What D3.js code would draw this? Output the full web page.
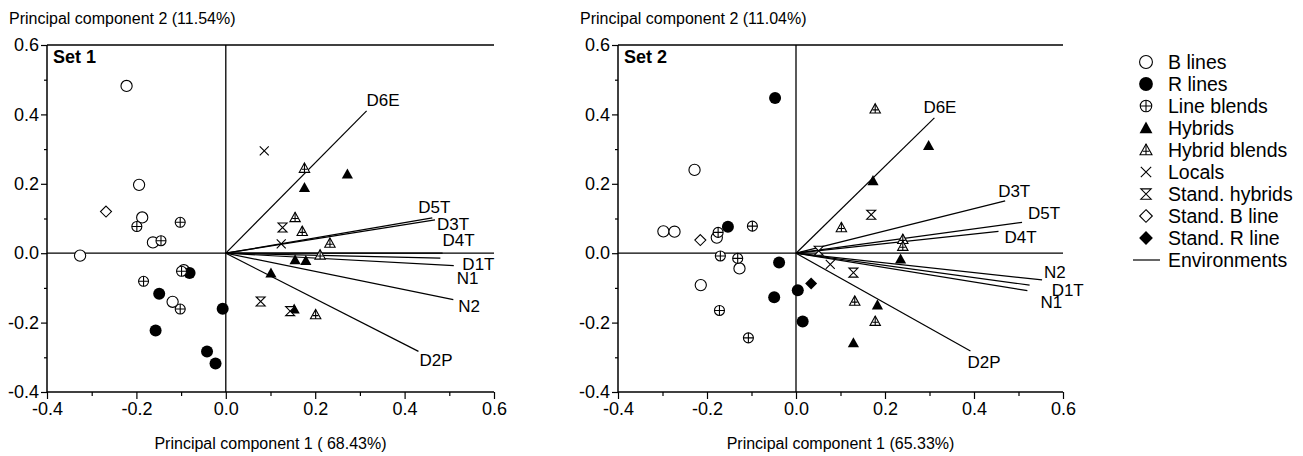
<!DOCTYPE html>
<html lang="en">
<head>
<meta charset="utf-8" />
<title>PCA biplots</title>
<script src="https://d3js.org/d3.v7.min.js"></script>
<style>
  body { margin: 0; background: #fff; }
  svg text { font-family: "Liberation Sans", Arial, sans-serif; fill: #000; }
</style>
</head>
<body>
<div id="chart"></div>
<script>
  var width = 1303, height = 456;

  // legend groups (order as in the legend)
  var groups = ["B lines", "R lines", "Line blends", "Hybrids", "Hybrid blends",
                "Locals", "Stand. hybrids", "Stand. B line", "Stand. R line"];
  var ticks = [-0.4, -0.2, 0.0, 0.2, 0.4, 0.6];

  // Set 1 : [pc1, pc2, group]
  var set1Points = [
    [-0.222, 0.482, "B lines"], [-0.194, 0.197, "B lines"], [-0.187, 0.103, "B lines"],
    [-0.163, 0.031, "B lines"], [-0.326, -0.007, "B lines"], [-0.094, -0.049, "B lines"],
    [-0.119, -0.140, "B lines"],
    [-0.081, -0.057, "R lines"], [-0.149, -0.117, "R lines"], [-0.007, -0.160, "R lines"],
    [-0.157, -0.223, "R lines"], [-0.042, -0.283, "R lines"], [-0.023, -0.318, "R lines"],
    [-0.199, 0.077, "Line blends"], [-0.102, 0.089, "Line blends"], [-0.145, 0.036, "Line blends"],
    [-0.184, -0.081, "Line blends"], [-0.102, -0.161, "Line blends"], [-0.099, -0.052, "Line blends"],
    [0.272, 0.228, "Hybrids"], [0.176, 0.189, "Hybrids"], [0.155, -0.019, "Hybrids"],
    [0.179, -0.021, "Hybrids"], [0.101, -0.057, "Hybrids"], [0.153, -0.161, "Hybrids"],
    [0.176, 0.245, "Hybrid blends"], [0.155, 0.103, "Hybrid blends"], [0.171, 0.063, "Hybrid blends"],
    [0.233, 0.029, "Hybrid blends"], [0.211, -0.005, "Hybrid blends"], [0.201, -0.177, "Hybrid blends"],
    [0.086, 0.295, "Locals"], [0.124, 0.027, "Locals"],
    [0.127, 0.074, "Stand. hybrids"], [0.078, -0.139, "Stand. hybrids"], [0.144, -0.167, "Stand. hybrids"],
    [-0.268, 0.120, "Stand. B line"]
  ];
  var set1Vectors = [
    ["D6E", 0.315, 0.410], ["D5T", 0.462, 0.102], ["D3T", 0.468, 0.096], ["D4T", 0.485, 0.000],
    ["D1T", 0.480, -0.014], ["N1", 0.510, -0.036], ["N2", 0.509, -0.134], ["D2P", 0.431, -0.283]
  ];

  // Set 2
  var set2Points = [
    [-0.228, 0.240, "B lines"], [-0.298, 0.063, "B lines"], [-0.273, 0.062, "B lines"],
    [-0.178, 0.045, "B lines"], [-0.127, -0.044, "B lines"], [-0.214, -0.092, "B lines"],
    [-0.047, 0.447, "R lines"], [-0.153, 0.076, "R lines"], [-0.038, -0.027, "R lines"],
    [-0.049, -0.127, "R lines"], [0.004, -0.107, "R lines"], [0.015, -0.197, "R lines"],
    [-0.098, 0.078, "Line blends"], [-0.175, 0.060, "Line blends"], [-0.170, -0.008, "Line blends"],
    [-0.131, -0.015, "Line blends"], [-0.172, -0.165, "Line blends"], [-0.107, -0.244, "Line blends"],
    [0.298, 0.310, "Hybrids"], [0.173, 0.209, "Hybrids"], [0.235, -0.017, "Hybrids"],
    [0.183, -0.149, "Hybrids"], [0.129, -0.258, "Hybrids"],
    [0.178, 0.416, "Hybrid blends"], [0.102, 0.074, "Hybrid blends"], [0.240, 0.040, "Hybrid blends"],
    [0.240, 0.020, "Hybrid blends"], [0.132, -0.138, "Hybrid blends"], [0.178, -0.196, "Hybrid blends"],
    [0.077, -0.032, "Locals"],
    [0.169, 0.111, "Stand. hybrids"], [0.129, -0.056, "Stand. hybrids"], [0.051, 0.007, "Stand. hybrids"],
    [-0.215, 0.038, "Stand. B line"],
    [0.034, -0.087, "Stand. R line"]
  ];
  var set2Vectors = [
    ["D6E", 0.311, 0.390], ["D3T", 0.470, 0.151], ["D5T", 0.508, 0.089], ["D4T", 0.455, 0.063],
    ["N2", 0.553, -0.077], ["D1T", 0.525, -0.092], ["N1", 0.520, -0.108], ["D2P", 0.392, -0.282]
  ];

  // label nudges (pixels) for the environment labels
  var labelNudge1 = { D6E: [0, -5], D5T: [-14, -5], D3T: [2, 10], D4T: [0, -7],
                      D1T: [22, 12], N1: [3, 18], N2: [5, 12], D2P: [1, 15] };
  var labelNudge2 = { D6E: [-11, -5], D3T: [-7, -4], D5T: [6, -3], D4T: [6, 12],
                      N2: [2, -2], D1T: [22, 11], N1: [13, 17], D2P: [-3, 17] };

  var panels = [
    { points: set1Points, vectors: set1Vectors, nudge: labelNudge1, left: 47, right: 494,
      setName: "Set 1", yTitle: "Principal component 2 (11.54%)", xTitle: "Principal component 1 ( 68.43%)" },
    { points: set2Points, vectors: set2Vectors, nudge: labelNudge2, left: 618, right: 1063,
      setName: "Set 2", yTitle: "Principal component 2 (11.04%)", xTitle: "Principal component 1 (65.33%)" }
  ];
  var plotTop = 45, plotBottom = 392;
  var fmt = function(d) { return d.toFixed(1); };

  var svg = d3.select("#chart").append("svg")
              .attr("width", width).attr("height", height);

  // marker drawing
  function drawMarker(g, type, x, y, s) {
    s = s || 1;
    var m = g.append("g").attr("transform", "translate(" + x + "," + y + ")");
    var lw = 1.1;
    if (type === "B lines") {
      m.append("circle").attr("r", 5.6 * s).attr("fill", "#fff").attr("stroke", "#000").attr("stroke-width", lw);
    } else if (type === "R lines") {
      m.append("circle").attr("r", 6 * s).attr("fill", "#000");
    } else if (type === "Line blends") {
      var r = 5 * s;
      m.append("circle").attr("r", r).attr("fill", "#fff").attr("stroke", "#000").attr("stroke-width", lw);
      m.append("path").attr("d", "M" + (-r) + ",0H" + r + "M0," + (-r) + "V" + r)
       .attr("stroke", "#000").attr("stroke-width", lw);
    } else if (type === "Hybrids") {
      var h = 5.6 * s;
      m.append("path").attr("d", "M0," + (-h) + "L" + h + "," + (h * 0.8) + "L" + (-h) + "," + (h * 0.8) + "Z")
       .attr("fill", "#000");
    } else if (type === "Hybrid blends") {
      var h2 = 5.2 * s;
      m.append("path").attr("d", "M0," + (-h2) + "L" + h2 + "," + (h2 * 0.8) + "L" + (-h2) + "," + (h2 * 0.8) + "Z")
       .attr("fill", "#fff").attr("stroke", "#000").attr("stroke-width", lw);
      m.append("path").attr("d", "M0," + (-h2) + "V" + (h2 * 0.8) + "M" + (-h2 * 0.55) + "," + (h2 * 0.2) + "H" + (h2 * 0.55))
       .attr("stroke", "#000").attr("stroke-width", lw);
    } else if (type === "Locals") {
      var c = 4.5 * s;
      m.append("path").attr("d", "M" + (-c) + "," + (-c) + "L" + c + "," + c + "M" + (-c) + "," + c + "L" + c + "," + (-c))
       .attr("stroke", "#000").attr("stroke-width", lw).attr("fill", "none");
    } else if (type === "Stand. hybrids") {
      var w = 4.5 * s;
      m.append("path").attr("d", "M" + (-w) + "," + (-w) + "H" + w + "L" + (-w) + "," + w + "H" + w + "Z")
       .attr("stroke", "#000").attr("stroke-width", lw).attr("fill", "#fff").attr("stroke-linejoin", "miter");
    } else if (type === "Stand. B line") {
      var d = 5.5 * s;
      m.append("path").attr("d", "M0," + (-d) + "L" + d + ",0L0," + d + "L" + (-d) + ",0Z")
       .attr("fill", "#fff").attr("stroke", "#000").attr("stroke-width", lw);
    } else if (type === "Stand. R line") {
      var d2 = 6 * s;
      m.append("path").attr("d", "M0," + (-d2) + "L" + d2 + ",0L0," + d2 + "L" + (-d2) + ",0Z")
       .attr("fill", "#000");
    }
  }

  panels.forEach(function(p) {
    var x = d3.scaleLinear().domain([-0.4, 0.6]).range([p.left, p.right]);
    var y = d3.scaleLinear().domain([-0.4, 0.6]).range([plotBottom, plotTop]);
    var g = svg.append("g");

    // frame: top line, zero lines
    g.append("line").attr("x1", p.left).attr("x2", p.right).attr("y1", plotTop).attr("y2", plotTop)
     .attr("stroke", "#000").attr("stroke-width", 1.3);
    g.append("line").attr("x1", x(0)).attr("x2", x(0)).attr("y1", plotTop).attr("y2", plotBottom)
     .attr("stroke", "#000").attr("stroke-width", 1.3);
    g.append("line").attr("x1", p.left).attr("x2", p.right).attr("y1", y(0)).attr("y2", y(0))
     .attr("stroke", "#000").attr("stroke-width", 1.3);

    // axes
    var xAxis = d3.axisBottom(x).tickValues(ticks).tickFormat(fmt).tickSize(7).tickPadding(3);
    var gx = g.append("g").attr("transform", "translate(0," + plotBottom + ")").call(xAxis);
    var xMinor = d3.axisBottom(x).tickValues([-0.3, -0.1, 0.1, 0.3, 0.5]).tickFormat("").tickSize(4);
    g.append("g").attr("transform", "translate(0," + plotBottom + ")").call(xMinor).select(".domain").remove();

    var yAxis = d3.axisLeft(y).tickValues(ticks).tickFormat(fmt).tickSize(6).tickPadding(2);
    var gy = g.append("g").attr("transform", "translate(" + p.left + ",0)").call(yAxis);
    var yMinor = d3.axisLeft(y).tickValues([-0.3, -0.1, 0.1, 0.3, 0.5]).tickFormat("").tickSize(3);
    g.append("g").attr("transform", "translate(" + p.left + ",0)").call(yMinor).select(".domain").remove();

    g.selectAll(".domain").attr("stroke-width", 1.5);
    g.selectAll(".tick line").attr("stroke-width", 1.2);
    g.selectAll(".tick text").style("font-size", "18px")
     .style("font-family", "'Liberation Sans', Arial, sans-serif").attr("fill", "#000");
    gx.select(".domain").attr("d", "M" + p.left + ",0H" + p.right);
    gy.select(".domain").attr("d", "M0," + plotTop + "V" + plotBottom);

    // titles
    g.append("text").attr("x", p.left - 38).attr("y", 24).style("font-size", "16px").text(p.yTitle);
    g.append("text").attr("x", (p.left + p.right) / 2).attr("y", 449).attr("text-anchor", "middle")
     .style("font-size", "16px").text(p.xTitle);
    g.append("text").attr("x", p.left + 6).attr("y", plotTop + 18).style("font-size", "18px")
     .style("font-weight", "bold").text(p.setName);

    // environment vectors
    g.selectAll("line.vec").data(p.vectors).enter().append("line")
     .attr("class", "vec")
     .attr("x1", x(0)).attr("y1", y(0))
     .attr("x2", function(d) { return x(d[1]); })
     .attr("y2", function(d) { return y(d[2]); })
     .attr("stroke", "#000").attr("stroke-width", 1.2);
    g.selectAll("text.vec").data(p.vectors).enter().append("text")
     .attr("class", "vec")
     .attr("x", function(d) { return x(d[1]) + p.nudge[d[0]][0]; })
     .attr("y", function(d) { return y(d[2]) + p.nudge[d[0]][1]; })
     .style("font-size", "17px")
     .text(function(d) { return d[0]; });

    // points
    var pg = g.append("g");
    p.points.forEach(function(d) { drawMarker(pg, d[2], x(d[0]), y(d[1])); });
  });

  // legend
  var legend = svg.append("g");
  var legendY = d3.scalePoint().domain(groups.concat(["Environments"])).range([62, 260]);
  groups.forEach(function(name) {
    drawMarker(legend, name, 1146, legendY(name), 1.15);
    legend.append("text").attr("x", 1168).attr("y", legendY(name) + 7)
          .style("font-size", "19.5px").text(name);
  });
  legend.append("line").attr("x1", 1133).attr("x2", 1160)
        .attr("y1", legendY("Environments")).attr("y2", legendY("Environments"))
        .attr("stroke", "#000").attr("stroke-width", 1.2);
  legend.append("text").attr("x", 1168).attr("y", legendY("Environments") + 7)
        .style("font-size", "19.5px").text("Environments");
</script>
</body>
</html>
